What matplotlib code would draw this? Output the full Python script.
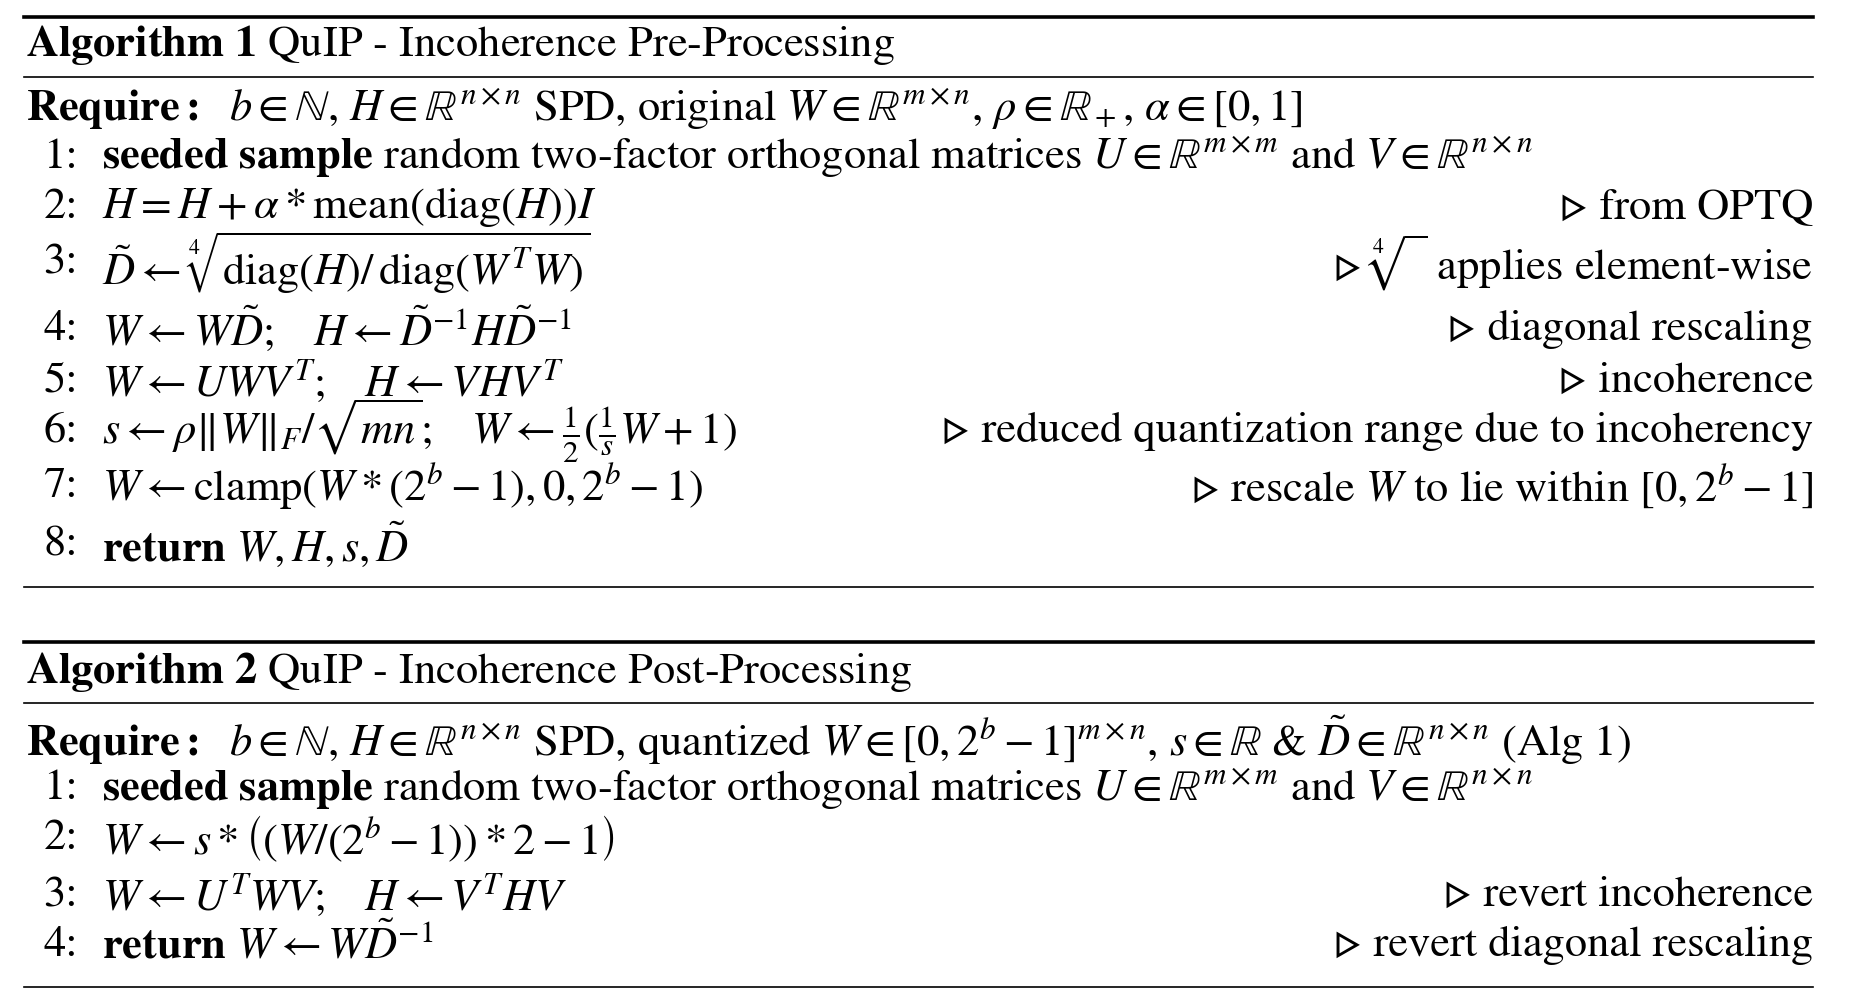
import matplotlib
matplotlib.use("Agg")
import matplotlib.pyplot as plt

plt.rcParams['mathtext.fontset'] = 'stix'
plt.rcParams['font.family'] = ['STIXGeneral', 'DejaVu Serif']

TRI = "\u25B9 "

# algorithm 1
alg1_title = "QuIP - Incoherence Pre-Processing"
alg1_require = (r"$b \in \mathbb{N}$, $H \in \mathbb{R}^{n \times n}$ SPD, original "
                r"$W \in \mathbb{R}^{m \times n}$, $\rho \in \mathbb{R}_+$, $\alpha \in [0, 1]$")
alg1_steps = [
    r"$\mathbf{seeded\ sample}$ random two-factor orthogonal matrices $U \in \mathbb{R}^{m \times m}$ and $V \in \mathbb{R}^{n \times n}$",
    r"$H = H + \alpha * \mathrm{mean}(\mathrm{diag}(H))I$",
    r"$\tilde{D} \leftarrow \sqrt[4]{\mathrm{diag}(H) / \,\mathrm{diag}(W^T W)}$",
    r"$W \leftarrow W\tilde{D};\quad H \leftarrow \tilde{D}^{-1} H \tilde{D}^{-1}$",
    r"$W \leftarrow UWV^T;\quad H \leftarrow VHV^T$",
    r"$s \leftarrow \rho \Vert W \Vert_F / \sqrt{mn};\quad W \leftarrow \frac{1}{2}(\frac{1}{s}W + 1)$",
    r"$W \leftarrow \mathrm{clamp}(W * (2^b - 1), 0, 2^b - 1)$",
    r"$\mathbf{return}$ $W, H, s, \tilde{D}$",
]
alg1_comments = [
    "",
    TRI + "from OPTQ",
    TRI + r"$\sqrt[4]{\ }$ applies element-wise",
    TRI + "diagonal rescaling",
    TRI + "incoherence",
    TRI + "reduced quantization range due to incoherency",
    TRI + r"rescale $W$ to lie within $[0, 2^b - 1]$",
    "",
]
alg1_rows = [133, 175, 222, 278, 322, 364, 411, 460]

# algorithm 2
alg2_title = "QuIP - Incoherence Post-Processing"
alg2_require = (r"$b \in \mathbb{N}$, $H \in \mathbb{R}^{n \times n}$ SPD, quantized "
                r"$W \in [0, 2^b - 1]^{m \times n}$, $s \in \mathbb{R}$ & "
                r"$\tilde{D} \in \mathbb{R}^{n \times n}$ (Alg 1)")
alg2_steps = [
    r"$\mathbf{seeded\ sample}$ random two-factor orthogonal matrices $U \in \mathbb{R}^{m \times m}$ and $V \in \mathbb{R}^{n \times n}$",
    r"$W \leftarrow s * \left((W/(2^b - 1)) * 2 - 1\right)$",
    r"$W \leftarrow U^T W V;\quad H \leftarrow V^T H V$",
    r"$\mathbf{return}$ $W \leftarrow W\tilde{D}^{-1}$",
]
alg2_comments = [
    "",
    "",
    TRI + "revert incoherence",
    TRI + "revert diagonal rescaling",
]
alg2_rows = [666, 708, 756, 798]

W, Hh = 1568, 849
fs = 32

fig = plt.figure(figsize=(18.58, 10.06), dpi=100)
ax = fig.add_axes([0, 0, 1, 1])
ax.set_xlim(0, W)
ax.set_ylim(Hh, 0)
ax.axis('off')


def draw_algo(num, title, require, steps, comments, rows, top, mid, bottom, y_title, y_req):
    ax.plot([20, 1530], [top, top], color='black', lw=2.6)
    ax.plot([20, 1530], [mid, mid], color='black', lw=1.2)
    ax.plot([20, 1530], [bottom, bottom], color='black', lw=1.2)
    ax.text(22, y_title, r"$\mathbf{Algorithm\ %d}$ " % num + title,
            fontsize=fs, va='center', ha='left')
    ax.text(22, y_req, r"$\mathbf{Require{:}}$  " + require,
            fontsize=fs, va='center', ha='left')
    for i, (s, c, y) in enumerate(zip(steps, comments, rows)):
        ax.text(66, y, f"{i + 1}:", fontsize=fs, va='center', ha='right')
        ax.text(86, y, s, fontsize=fs, va='center', ha='left')
        if c:
            ax.text(1530, y, c, fontsize=fs, va='center', ha='right')


draw_algo(1, alg1_title, alg1_require, alg1_steps, alg1_comments, alg1_rows,
          14, 65, 495, 38, 92)
draw_algo(2, alg2_title, alg2_require, alg2_steps, alg2_comments, alg2_rows,
          542, 593, 833, 567, 625)

fig.savefig("out.png", dpi=100)
